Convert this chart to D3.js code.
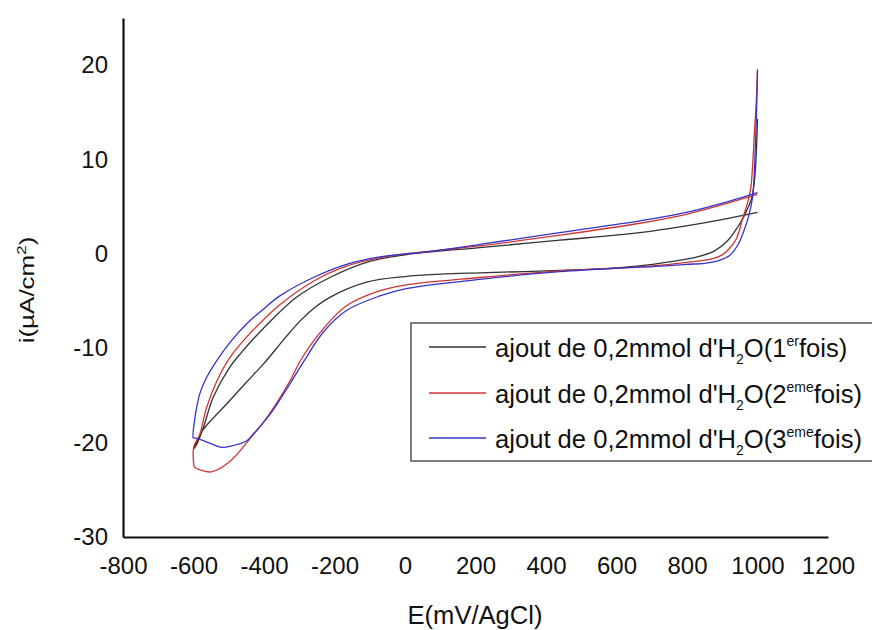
<!DOCTYPE html>
<html>
<head>
<meta charset="utf-8">
<script src="https://cdn.jsdelivr.net/npm/d3@7"></script>
<style>
  html, body { margin: 0; padding: 0; background: #fff; }
  svg { display: block; font-family: "Liberation Sans", Arial, Helvetica, sans-serif; }
</style>
</head>
<body>
<svg id="chart" width="872" height="630"></svg>
<script>
// ---------- data ----------
const xTicks = [-800, -600, -400, -200, 0, 200, 400, 600, 800, 1000, 1200];
const yTicks = [-30, -20, -10, 0, 10, 20];
const xTitle = "E(mV/AgCl)";
const seriesOrdinals = ["1", "2", "3"];
const seriesSup = ["er", "eme", "eme"];

// 1st addition (black): spike at 1000, cathodic sweep to -600, return to 1000
const blackE = [1000, 997, 992, 984, 972, 962, 943, 915, 877, 840, 798, 703, 609, 439, 212, 100, 0, -109, -213, -260, -300, -340, -400, -450, -506, -544, -572, -591, -600,
                -591, -572, -544, -497, -463, -435, -402, -308, -213, -100, 0, 212, 439, 666, 798, 921, 1000];
const blackI = [14.3, 11.0, 8.0, 6.0, 4.8, 4.0, 2.8, 1.4, 0.3, -0.2, -0.56, -1.1, -1.45, -1.75, -2.0, -2.15, -2.4, -3.0, -4.6, -5.8, -7.2, -8.9, -11.6, -13.6, -15.9, -17.4, -18.6, -19.9, -20.7,
                -20.2, -18.4, -15.2, -12.0, -10.4, -9.2, -7.9, -4.6, -2.5, -0.8, -0.1, 0.67, 1.45, 2.26, 2.97, 3.8, 4.4];

// 2nd addition (red)
const redE = [1000, 997, 991, 987, 981, 973, 959, 940, 921, 900, 873, 798, 703, 609, 439, 212, 0, -71, -166, -242, -298, -327, -393, -440, -497, -549, -580, -597, -600, -601,
              -598, -590, -582, -563, -534, -497, -454, -421, -355, -260, -166, -71, 0, 212, 439, 666, 798, 921, 1000];
const redI = [19.6, 16.5, 12.7, 9.9, 7.0, 5.6, 3.9, 1.6, 0.6, -0.1, -0.5, -0.9, -1.27, -1.5, -1.8, -2.5, -3.3, -3.9, -5.5, -8.4, -11.4, -13.5, -17.4, -19.6, -22.0, -23.1, -22.9, -22.6, -22.0, -21.0,
              -20.3, -19.7, -19.1, -16.3, -13.5, -11.0, -9.0, -7.7, -5.4, -2.9, -1.3, -0.4, 0.0, 0.85, 1.98, 3.25, 4.2, 5.44, 6.3];

// 3rd addition (blue)
const blueE = [1000, 998, 995, 992, 989, 986, 975, 962, 945, 920, 890, 850, 798, 703, 609, 439, 212, 0, -71, -166, -232, -284, -327, -383, -431, -449, -497, -520, -544, -582, -600,
               -601, -596, -582, -563, -534, -497, -449, -400, -355, -260, -166, -71, 0, 42, 212, 439, 666, 798, 921, 1000];
const blueI = [19.4, 16.0, 12.5, 9.5, 7.2, 6.0, 4.0, 2.5, 1.0, -0.2, -0.7, -1.0, -1.1, -1.35, -1.5, -1.88, -2.7, -3.7, -4.45, -6.0, -8.3, -11.2, -13.8, -17.0, -19.1, -19.8, -20.4, -20.5, -20.2, -19.65, -19.5,
               -19.5, -17.4, -14.8, -13.1, -11.3, -9.4, -7.4, -5.8, -4.45, -2.5, -1.1, -0.32, 0.0, 0.14, 1.0, 2.26, 3.5, 4.4, 5.6, 6.5];

const series = [
  { E: blackE, I: blackI, color: "#333333" },
  { E: redE,   I: redI,   color: "#d03434" },
  { E: blueE,  I: blueI,  color: "#3434c8" }
];

// ---------- layout ----------
const svg = d3.select("#chart");
const x = d3.scaleLinear().domain([-800, 1200]).range([123, 828]);
const y = d3.scaleLinear().domain([-30, 25]).range([537, 18]);

// axes
const gx = svg.append("g").attr("transform", "translate(0,537)")
  .call(d3.axisBottom(x).tickValues(xTicks).tickSize(0).tickSizeOuter(0).tickPadding(20).tickFormat(d3.format("d")));
const gy = svg.append("g").attr("transform", "translate(123,0)")
  .call(d3.axisLeft(y).tickValues(yTicks).tickSize(0).tickSizeOuter(0).tickPadding(15).tickFormat(d3.format("d")));
[gx, gy].forEach(g => {
  g.select(".domain").attr("stroke", "#111").attr("stroke-width", 2.2);
  g.selectAll("text").attr("font-size", 24).attr("fill", "#111")
    .attr("font-family", "'Liberation Sans', Arial, sans-serif");
});
gx.selectAll("text").text(d => d < 0 ? "-" + Math.abs(d) : d);
gy.selectAll("text").text(d => d < 0 ? "-" + Math.abs(d) : d);

// curves
const line = d3.line()
  .x(d => x(d[0])).y(d => y(d[1]))
  .curve(d3.curveCatmullRom.alpha(0.5));
series.forEach(s => {
  const pts = s.E.map((e, k) => [e, s.I[k]]);
  svg.append("path").datum(pts)
    .attr("d", line)
    .attr("fill", "none")
    .attr("stroke", s.color)
    .attr("stroke-width", 1.3)
    .attr("stroke-linejoin", "round");
});

// axis titles
svg.append("text")
  .attr("x", 475).attr("y", 624)
  .attr("text-anchor", "middle")
  .attr("font-size", 25).attr("fill", "#111")
  .attr("textLength", 135).attr("lengthAdjust", "spacingAndGlyphs")
  .text(xTitle);

const yl = svg.append("text")
  .attr("transform", "translate(34,290) rotate(-90) scale(1.3,1)")
  .attr("text-anchor", "middle")
  .attr("font-size", 20).attr("fill", "#111");
yl.append("tspan").text("i(µA/cm");
yl.append("tspan").attr("font-size", 13).attr("dy", -8).text("2");
yl.append("tspan").attr("dy", 8).text(")");

// legend
const lg = svg.append("g");
lg.append("rect")
  .attr("x", 411).attr("y", 323).attr("width", 480).attr("height", 138)
  .attr("fill", "#fff").attr("stroke", "#555").attr("stroke-width", 1.5);
const rowY = [347, 393, 438];
series.forEach((s, k) => {
  lg.append("line")
    .attr("x1", 429).attr("x2", 486)
    .attr("y1", rowY[k]).attr("y2", rowY[k])
    .attr("stroke", s.color).attr("stroke-width", 1.3);
  const t = lg.append("text")
    .attr("x", 495).attr("y", rowY[k] + 10)
    .attr("font-size", 25.6).attr("fill", "#111");
  t.append("tspan").text("ajout de 0,2mmol d'H");
  t.append("tspan").attr("font-size", 14).attr("dy", 7).text("2");
  t.append("tspan").attr("dy", -7).text("O(" + seriesOrdinals[k]);
  t.append("tspan").attr("font-size", 14).attr("dy", -11).text(seriesSup[k]);
  t.append("tspan").attr("dy", 11).text("fois)");
});
</script>
</body>
</html>
